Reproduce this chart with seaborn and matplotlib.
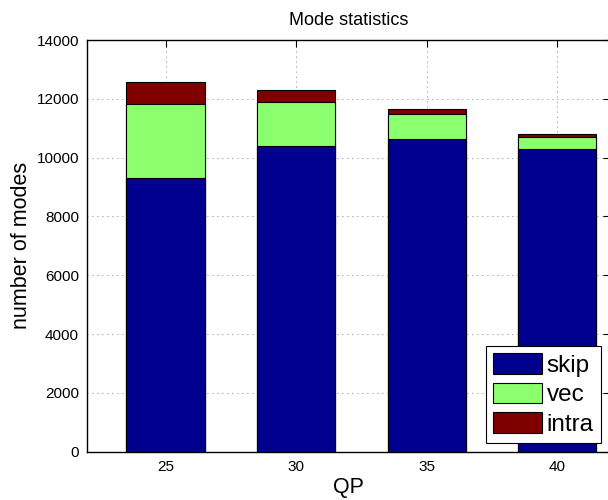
import matplotlib
matplotlib.use("Agg")
import matplotlib.pyplot as plt
from matplotlib.patches import Patch
import seaborn as sns
import pandas as pd
import numpy as np

# Mode counts per quantisation parameter
qp = [25, 30, 35, 40]
skip = [9300, 10380, 10650, 10300]
vec = [2530, 1520, 850, 400]
intra = [730, 410, 170, 120]

labels = ["skip", "vec", "intra"]
colors = ["#00008F", "#8CFF6E", "#800000"]

sns.set_theme(style="white")
plt.rcParams["font.family"] = ["Liberation Sans", "DejaVu Sans"]

df = pd.DataFrame({"QP": qp, "skip": skip, "vec": vec, "intra": intra})
df["skip_vec"] = df["skip"] + df["vec"]
df["total"] = df["skip_vec"] + df["intra"]

fig = plt.figure(figsize=(6.08, 5.0), dpi=100)
W, H = 608, 500
left, right, top, bottom = 87.3, 609.5, 40.0, 451.7
ax = fig.add_axes([left / W, (H - bottom) / H, (right - left) / W, (bottom - top) / H])

# Stacked bars: draw cumulative totals from the top layer down
for col, c in zip(["total", "skip_vec", "skip"], colors[::-1]):
    sns.barplot(data=df, x="QP", y=col, native_scale=True, width=0.6,
                color=c, saturation=1, edgecolor="black", linewidth=0.8,
                ax=ax, zorder=3)

ax.set_xlim(22, 42)
ax.set_ylim(0, 14000)
ax.set_xticks(qp)
ax.set_xticklabels([str(v) for v in qp])
ax.set_yticks(np.arange(0, 14001, 2000))

ax.grid(True, linestyle=(0, (1, 5)), color="#555555", linewidth=0.6, zorder=0)
ax.set_axisbelow(True)

for s in ax.spines.values():
    s.set_color("black")
    s.set_linewidth(1.0)
ax.tick_params(direction="in", length=5, width=0.8, color="black",
               top=True, right=True, labelsize=11, pad=6, labelcolor="black")

ax.set_xlabel("QP", fontsize=15.5, labelpad=2, color="black")
ax.set_ylabel("number of modes", fontsize=15.5, labelpad=3, color="black")
ax.set_title("Mode statistics", fontsize=13, pad=11, color="black")

handles = [Patch(facecolor=c, edgecolor="black", linewidth=0.8) for c in colors]
leg = ax.legend(handles, labels, loc="lower right", fontsize=17.5, frameon=True,
                fancybox=False, edgecolor="black", framealpha=1, labelcolor="black",
                handlelength=2.0, handleheight=0.9, handletextpad=0.2,
                labelspacing=0.25, borderpad=0.3, borderaxespad=0.35)
leg.get_frame().set_linewidth(0.8)
leg.set_zorder(5)

fig.savefig("out.png", dpi=100)
